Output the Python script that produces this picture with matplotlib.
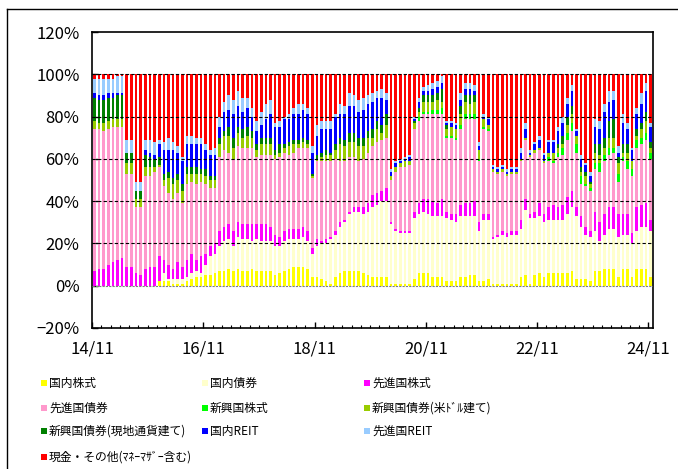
import matplotlib.pyplot as plt
import matplotlib.ticker as mticker
from matplotlib.patches import Rectangle
from matplotlib.lines import Line2D
import numpy as np

plt.rcParams['font.family'] = ['Noto Sans CJK JP', 'DejaVu Sans']

# monthly allocation (%), 2014/11 .. 2024/11
kokunai_kabu = [0,0,0,0,0,0,0,0,0,0,0,0,0,0,2,2,2,1,1,1,2,3,4,4,5,5,6,7,7,8,
                7,8,7,7,8,7,7,7,7,5,6,7,8,9,9,9,8,4,4,3,2,1,4,6,7,7,7,7,6,5,
                4,4,4,4,1,1,1,1,1,3,6,6,6,4,4,4,2,2,2,4,4,5,5,2,2,3,1,1,1,1,
                1,1,4,5,1,5,6,4,6,6,6,6,6,7,3,3,3,2,7,7,8,8,8,4,8,8,4,8,8,8,
                4]
kokunai_sai = [0,0,0,0,0,0,0,0,0,0,0,0,0,0,0,4,1,2,2,2,2,3,3,2,5,9,9,12,14,14,
               12,15,15,15,13,15,14,14,14,14,13,14,14,13,13,14,13,11,15,17,18,21,20,22,23,27,28,28,28,30,
               33,34,36,36,28,25,24,24,24,29,28,29,28,29,29,29,30,29,28,29,29,28,28,24,29,28,21,22,23,22,
               23,23,23,31,31,27,27,26,25,25,25,25,28,30,30,25,21,21,19,14,16,19,19,19,16,16,16,18,20,20,
               22]
senshin_kabu = [7,8,8,10,11,12,13,9,9,6,5,8,9,9,12,6,7,5,8,6,8,9,5,8,5,5,5,7,7,7,
                7,7,7,7,8,7,8,8,7,5,4,5,5,5,5,5,5,3,3,1,2,1,2,2,1,1,2,2,3,4,
                6,6,5,6,1,1,1,1,1,3,5,6,7,7,6,8,3,3,4,5,6,6,7,4,3,3,1,1,2,2,
                2,2,4,5,2,3,6,4,6,7,6,7,8,8,4,5,4,3,9,9,10,10,10,11,10,10,5,11,10,11,
                5]
senshin_sai = [67,66,65,64,64,63,62,44,44,31,32,44,43,45,42,35,34,33,33,30,36,34,36,35,33,27,26,35,36,34,
               34,36,36,36,36,32,33,33,34,36,38,37,35,36,38,37,39,33,37,38,37,36,34,29,28,26,24,22,23,24,
               23,24,24,24,20,27,30,30,31,39,39,40,40,41,42,40,35,36,35,36,40,40,39,29,40,39,31,29,28,27,
               27,27,28,28,27,28,25,24,22,20,24,24,27,28,26,15,19,19,20,24,25,25,26,15,25,21,27,28,29,30,
               29]
shinko_kabu = [0,0,0,0,0,0,0,0,0,0,0,0,0,0,0,0,0,0,0,0,0,0,0,0,0,0,0,0,0,0,
               0,0,0,0,0,0,0,0,0,0,0,0,0,0,0,0,0,0,0,0,0,0,0,0,0,0,0,0,0,0,
               0,0,0,0,0,0,0,0,0,0,2,1,1,2,2,3,1,1,1,2,2,2,2,1,1,1,0,0,0,0,
               0,0,0,0,0,0,0,0,2,1,2,3,3,4,4,4,1,1,3,4,3,3,2,4,2,4,3,4,3,3,
               3]
shinko_usd = [4,3,4,4,4,4,4,5,5,4,4,4,4,2,1,3,7,7,6,6,5,4,5,4,4,4,4,6,7,8,
              5,6,5,6,5,3,5,5,5,2,2,2,4,4,2,3,2,1,1,2,3,3,4,8,7,7,7,7,6,7,
              4,6,3,6,2,2,2,3,2,3,2,5,5,4,5,3,3,4,4,5,6,5,6,4,4,2,1,1,1,1,
              1,1,1,1,1,1,1,1,2,4,2,2,4,4,4,2,4,2,5,4,3,5,5,5,2,4,4,2,4,6,
              2]
shinko_local = [11,11,11,11,10,11,11,5,5,4,4,6,5,4,4,3,3,3,3,3,3,3,3,2,3,2,2,3,2,4,
                5,3,4,4,3,3,3,3,3,2,4,2,2,2,2,2,2,1,2,2,2,1,3,3,3,4,4,4,4,3,
                4,4,4,5,0,0,0,0,0,1,2,3,3,3,3,6,2,0,0,4,3,4,3,0,0,0,0,0,0,0,
                0,0,0,0,0,0,0,0,0,0,2,4,4,4,0,2,2,1,4,5,5,8,9,3,4,4,0,3,3,4,
                3]
kokunai_reit = [2,2,2,2,2,1,1,0,0,0,0,2,2,2,6,11,10,13,10,11,11,11,11,12,9,10,10,5,9,8,
                11,10,8,9,7,6,6,9,11,11,8,12,11,12,12,13,12,10,9,11,10,11,13,11,12,13,13,12,13,13,
                13,11,13,7,2,2,1,1,2,1,3,2,2,3,3,3,1,2,2,3,3,3,2,2,1,3,1,1,1,1,
                1,1,3,4,1,3,4,3,5,5,6,6,6,7,2,4,3,3,8,7,12,9,9,2,10,7,5,7,9,10,
                7]
senshin_reit = [7,8,8,7,7,8,8,6,6,4,4,5,6,6,2,4,6,4,3,2,4,4,3,3,3,2,3,5,5,7,
                7,7,7,5,4,5,6,7,7,2,3,1,2,3,5,3,3,3,5,4,4,4,1,5,4,6,5,6,6,4,
                4,3,4,3,1,1,1,1,1,1,2,2,3,3,3,3,1,1,1,3,3,3,3,2,1,1,1,1,1,1,
                1,1,2,3,1,1,2,1,1,1,2,3,3,3,1,2,1,2,4,4,4,5,4,3,4,3,1,3,5,4,
                2]
genkin = [2,2,2,2,2,1,1,31,31,51,51,31,31,32,31,32,30,32,34,39,29,29,30,30,33,36,35,20,13,10,
          12,8,11,11,16,22,18,14,12,23,22,20,19,16,14,14,16,34,24,22,22,22,19,14,15,9,10,12,11,10,
          9,8,7,9,45,41,40,39,38,20,11,6,5,4,3,1,22,22,23,9,4,4,5,32,19,20,43,44,43,45,
          44,44,35,23,36,32,29,37,31,31,25,20,11,5,26,38,42,46,21,22,14,8,8,34,19,23,35,16,9,4,
          23]

names = ['国内株式', '国内債券', '先進国株式', '先進国債券', '新興国株式',
         '新興国債券(米ﾄﾞﾙ建て)', '新興国債券(現地通貨建て)', '国内REIT',
         '先進国REIT', '現金・その他(ﾏﾈｰﾏｻﾞｰ含む)']
colors = ['#FFFF00', '#FFFFCC', '#FF00FF', '#FF99CC', '#00FF00',
          '#99CC00', '#008000', '#0000FF', '#99CCFF', '#FF0000']
series = [kokunai_kabu, kokunai_sai, senshin_kabu, senshin_sai, shinko_kabu,
          shinko_usd, shinko_local, kokunai_reit, senshin_reit, genkin]
tick_labels = ['14/11', '16/11', '18/11', '20/11', '22/11', '24/11']

W, H = 678, 469
fig = plt.figure(figsize=(W/100, H/100), dpi=100)
ax = fig.add_axes([92/W, 1-328/H, 561/W, 296/H])

x = np.arange(len(genkin))
bottom = np.zeros(len(x))
for vals, col in zip(series, colors):
    ax.bar(x, vals, width=0.55, bottom=bottom, color=col, linewidth=0, zorder=2)
    bottom += np.array(vals)

ax.set_xlim(-0.5, len(x) - 0.5)
ax.set_ylim(-20, 120)
ax.set_yticks(range(-20, 121, 20))
ax.yaxis.set_major_formatter(mticker.FuncFormatter(
    lambda v, p: f'{int(v)}%'.replace('-', '\u2212')))

for yv in [20, 40, 60, 80, 100]:
    ax.axhline(yv, color='black', lw=0.8, ls=(0, (3, 2)), zorder=3)
ax.axhline(0, color='gray', lw=0.8, ls=(0, (2, 1)), zorder=3)

ax.set_xticks(np.arange(-0.5, len(x), 24))
ax.set_xticklabels(tick_labels)
ax.set_xticks(np.arange(-0.5, len(x), 2), minor=True)
ax.tick_params(axis='x', which='major', direction='in', length=4, width=1,
               pad=9, labelsize=12)
ax.tick_params(axis='x', which='minor', direction='in', length=2.5, width=0.8)
ax.tick_params(axis='y', direction='in', length=4, width=1, pad=9, labelsize=12)
for s in ax.spines.values():
    s.set_linewidth(1.2)
    s.set_color('black')

# outer frame
fig.add_artist(Line2D([7/W, 1], [1-9/H, 1-9/H], transform=fig.transFigure,
                      color='black', lw=1))
fig.add_artist(Line2D([7/W, 7/W], [0, 1-9/H], transform=fig.transFigure,
                      color='black', lw=1))

# legend, row by row
col_x = [44, 205, 367]
row_y = [383, 408, 431, 457]
for i, (nm, col) in enumerate(zip(names, colors)):
    cx = col_x[i % 3]
    cy = row_y[i // 3]
    fig.add_artist(Rectangle(((cx - 3)/W, 1 - (cy + 3)/H), 6/W, 6/H,
                             transform=fig.transFigure, facecolor=col,
                             edgecolor='none'))
    fig.text((cx + 5)/W, 1 - cy/H, nm, fontsize=8.5, va='center', ha='left')

fig.savefig('out.png', dpi=100)
